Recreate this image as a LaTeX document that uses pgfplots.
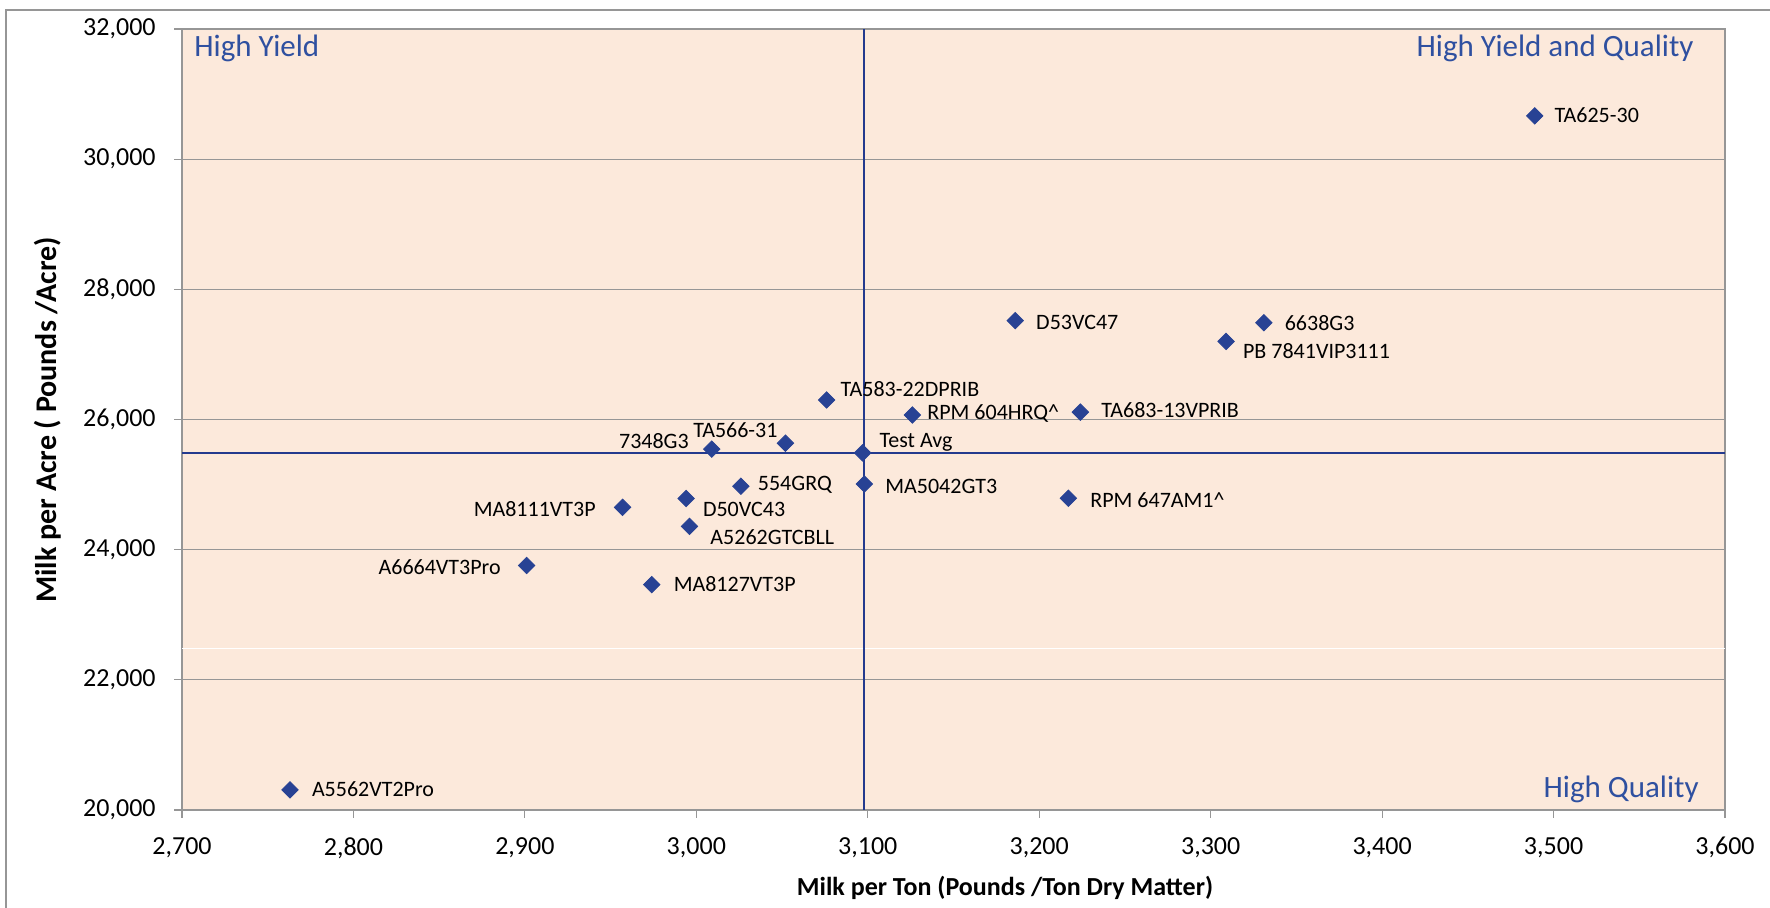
\documentclass[border=0pt]{standalone}
\usepackage{pgfplots}
\usepackage{pgfplotstable}
\usepackage{fontspec}
\pgfplotsset{compat=1.18}
\setmainfont{Carlito}

\definecolor{peach}{RGB}{252,233,219}
\definecolor{axisgray}{RGB}{150,150,150}
\definecolor{avgline}{RGB}{36,58,142}
\definecolor{mkblue}{RGB}{40,66,148}
\definecolor{quadblue}{RGB}{47,80,160}

% label right / left of the marker: {gap in pt}{raise in pt}{text}
\newcommand\lblR[3]{\makebox[0pt][l]{\hspace*{#1pt}\raisebox{\dimexpr #2pt-0.32em\relax}{#3}}}
\newcommand\lblL[3]{\makebox[0pt][r]{\raisebox{\dimexpr #2pt-0.32em\relax}{#3}\hspace*{#1pt}}}

% hybrid: milk per ton, milk per acre
\pgfplotstableread[col sep=comma]{
x,y,label
3489,30665,\lblR{10}{0}{TA625-30}
3331,27487,\lblR{10.5}{-0.5}{6638G3}
3309,27200,\lblR{8.5}{-5}{PB 7841VIP3111}
3186,27518,\lblR{10.5}{-1}{D53VC47}
3224,26113,\lblR{10.5}{1}{TA683-13VPRIB}
3126,26069,\lblR{7.5}{1.5}{RPM 604HRQ\textasciicircum}
3076,26300,\lblR{7}{5.5}{TA583-22DPRIB}
3052,25635,\lblL{4}{6.5}{TA566-31}
3009,25545,\lblL{11.5}{4}{7348G3}
3097,25487,\lblR{8.5}{6}{Test Avg}
3098,25009,\lblR{10.5}{-1}{MA5042GT3}
3217,24790,\lblR{11}{-1}{RPM 647AM1\textasciicircum}
3026,24975,\lblR{8.5}{1.5}{554GRQ}
2994,24786,\lblR{8.5}{-5.5}{D50VC43}
2957,24650,\lblL{13.5}{-1}{MA8111VT3P}
2996,24358,\lblR{10.5}{-5.5}{A5262GTCBLL}
2901,23757,\lblL{13}{-1}{A6664VT3Pro}
2974,23462,\lblR{11}{0}{MA8127VT3P}
2763,20310,\lblR{11}{0}{A5562VT2Pro}
}\hybrids

\begin{document}
\begin{tikzpicture}
\useasboundingbox (0,0) rectangle (885pt,454pt);
\draw[axisgray, line width=0.6pt] (3pt,0) -- (3pt,449pt) -- (885pt,449pt);
\begin{axis}[
    at={(91pt,49pt)}, anchor=south west,
    width=771.5pt, height=390.5pt, scale only axis,
    xmin=2700, xmax=3600, ymin=20000, ymax=32000,
    xtick={2700,2800,...,3600},
    ytick={20000,22000,...,32000},
    xtick pos=bottom, ytick pos=left,
    tick align=outside, major tick length=4pt,
    tick style={axisgray, line width=0.6pt},
    axis line style={axisgray, line width=0.6pt},
    axis background/.style={fill=peach},
    ymajorgrids,
    grid style={axisgray, line width=0.6pt},
    scaled ticks=false,
    /pgf/number format/.cd, 1000 sep={,}, assume math mode=true, /pgfplots/.cd,
    tick label style={font=\fontsize{13pt}{15pt}\selectfont, black},
    xticklabel style={inner sep=0pt, yshift=-9.5pt},
    yticklabel style={inner sep=0pt, xshift=-9pt},
    clip=false,
]
\addplot[white, line width=0.5pt] coordinates {(2700,22480) (3600,22480)};
\addplot[avgline, line width=1pt] coordinates {(3098,20000) (3098,32000)};
\addplot[avgline, line width=1pt] coordinates {(2700,25487) (3600,25487)};
\addplot[only marks, mark=square*, mark size=2.9pt,
    mark options={rotate=45, fill=mkblue, draw=mkblue},
    nodes near coords, point meta=explicit symbolic,
    nodes near coords style={anchor=base, inner sep=0pt, text=black,
        font=\fontsize{11pt}{13pt}\selectfont}]
    table[x=x, y=y, meta=label] {\hybrids};
\node[anchor=base west, text=quadblue, inner sep=0pt, font=\fontsize{15.5pt}{18pt}\selectfont]
    at (rel axis cs:0,1) [xshift=6pt, yshift=-14pt] {High Yield};
\node[anchor=base east, text=quadblue, inner sep=0pt, font=\fontsize{15.5pt}{18pt}\selectfont]
    at (rel axis cs:1,1) [xshift=-15.5pt, yshift=-14pt] {High Yield and Quality};
\node[anchor=base east, text=quadblue, inner sep=0pt, font=\fontsize{15.5pt}{18pt}\selectfont]
    at (rel axis cs:1,0) [xshift=-13pt, yshift=6pt] {High Quality};
\end{axis}
\node[rotate=90, font=\bfseries\fontsize{15pt}{18pt}\selectfont] at (24pt,244pt)
    {Milk per Acre ( Pounds /Acre)};
\node[font=\bfseries\fontsize{13pt}{16pt}\selectfont] at (502.5pt,10pt)
    {Milk per Ton (Pounds /Ton Dry Matter)};
\end{tikzpicture}
\end{document}
